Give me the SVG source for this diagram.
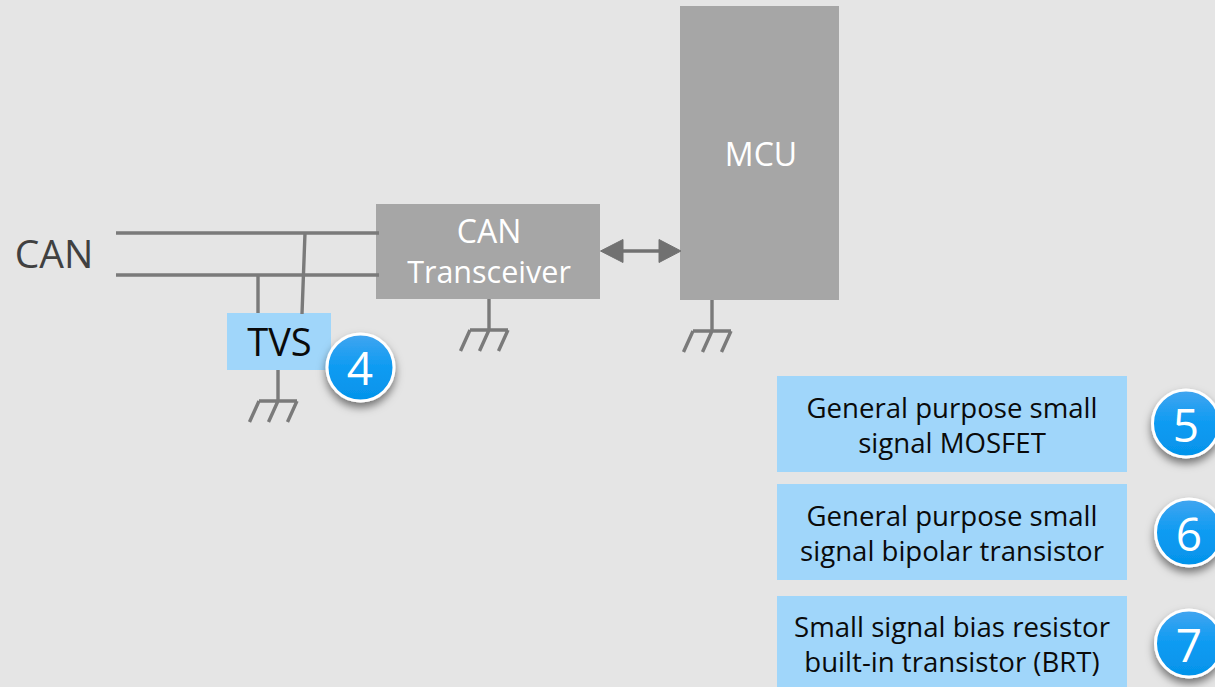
<svg xmlns="http://www.w3.org/2000/svg" width="1215" height="687" viewBox="0 0 1215 687">
<defs>
<linearGradient id="badge" x1="0" y1="0" x2="0" y2="1"><stop offset="0" stop-color="#42a5f0"/><stop offset="0.5" stop-color="#0d9bf2"/><stop offset="1" stop-color="#0493ea"/></linearGradient>
<filter id="sh" x="-30%" y="-30%" width="160%" height="170%"><feDropShadow dx="0" dy="5" stdDeviation="4" flood-color="#000" flood-opacity="0.5"/></filter>
<g id="gnd"><path d="M0 -31V0M-19 0H19M-19 0L-28.500 21M0 0L-9.500 21M19 0L9.500 21"/></g>
</defs>
<style>
text{font-family:"Open Sans","Noto Sans","Liberation Sans",sans-serif;text-anchor:middle}
.gray{fill:#a6a6a6}.blue{fill:#a0d6fa}
.wt{fill:#fff;font-size:32px}.bk{font-size:27.6px;fill:#0a0a0a}
.num{fill:#fff;font-size:46px;font-weight:400}
.badge{fill:url(#badge);stroke:#fff;stroke-width:3;filter:url(#sh)}
#connectors path,#connectors use{stroke:#7a7a7a;stroke-width:3.4;fill:none}
#connectors .arrow{stroke:#717171;fill:#717171;stroke-width:1}
#connectors .shaft{stroke:#717171;stroke-width:3.4}
</style>
<rect width="1215" height="687" fill="#e5e5e5"/>
<text id="can-label" x="54" y="268" style="font-size:39px;fill:#404040">CAN</text>
<g id="can-transceiver"><rect class="gray" x="376" y="204" width="224" height="95"/><text class="wt" x="489" y="243">CAN</text><text class="wt" x="489" y="282.500" style="font-size:30.500px">Transceiver</text></g>
<g id="mcu"><rect class="gray" x="680" y="6" width="159" height="294"/><text class="wt" x="761" y="165.500">MCU</text></g>
<g id="tvs"><rect class="blue" x="227" y="313" width="104" height="57"/><text x="279.500" y="355.500" style="font-size:38px;fill:#0a0a0a">TVS</text></g>
<g id="connectors">
<path d="M116 233H379M116 275H379M258 275V313M305 233L302 314"/>
<use href="#gnd" x="278" y="401"/><use href="#gnd" x="489" y="330"/><use href="#gnd" x="712" y="331"/>
<path class="shaft" d="M620 251H662"/>
<path class="arrow" d="M600.500 251L623 239.500V262.500ZM681 251L659 239.500V262.500Z"/>
</g>
<g id="badge4"><circle class="badge" cx="360.500" cy="367.500" r="33.500"/><text class="num" x="360" y="385">4</text></g>
<g id="box5"><rect class="blue" x="777" y="376" width="350" height="96"/><text class="bk" x="952" y="418">General purpose small</text><text class="bk" x="952" y="453">signal MOSFET</text></g>
<g id="badge5"><circle class="badge" cx="1186" cy="423.500" r="33.500"/><text class="num" x="1186" y="441.500">5</text></g>
<g id="box6"><rect class="blue" x="777" y="484" width="350" height="96"/><text class="bk" x="952" y="526">General purpose small</text><text class="bk" x="952" y="561">signal bipolar transistor</text></g>
<g id="badge6"><circle class="badge" cx="1189" cy="532.500" r="33.500"/><text class="num" x="1189" y="550.500">6</text></g>
<g id="box7"><rect class="blue" x="777" y="596" width="350" height="91"/><text class="bk" x="952" y="637">Small signal bias resistor</text><text class="bk" x="952" y="672">built-in transistor (BRT)</text></g>
<g id="badge7"><circle class="badge" cx="1189" cy="643.500" r="33.500"/><text class="num" x="1189" y="661.500">7</text></g>
</svg>
